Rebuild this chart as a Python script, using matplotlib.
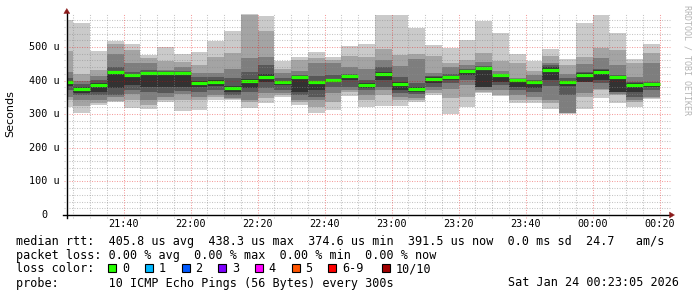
import matplotlib
matplotlib.use("Agg")
import matplotlib.pyplot as plt
from matplotlib.patches import Polygon, Rectangle

# ---------------- data ----------------
slot_start = ["21:20", "21:25", "21:30", "21:35", "21:40", "21:45", "21:50", "21:55",
              "22:00", "22:05", "22:10", "22:15", "22:20", "22:25", "22:30", "22:35",
              "22:40", "22:45", "22:50", "22:55", "23:00", "23:05", "23:10", "23:15",
              "23:20", "23:25", "23:30", "23:35", "23:40", "23:45", "23:50", "23:55",
              "00:00", "00:05", "00:10", "00:15"]
slot_minutes = 5
window_start = "21:23:05"
window_end = "00:23:05"

# sorted ping rtts (microseconds), ping_1 lowest ... ping_10 highest
ping_1 = [322, 305, 327, 335, 319, 315, 337, 310, 313, 342, 342, 317, 334, 352, 327, 305, 312, 354,
          322, 324, 324, 337, 357, 300, 322, 362, 354, 334, 332, 314, 301, 314, 347, 334, 320, 344]
ping_2 = [342, 324, 332, 340, 342, 327, 342, 342, 342, 352, 344, 335, 347, 357, 337, 322, 337, 367,
          342, 357, 342, 342, 364, 347, 352, 367, 357, 342, 342, 332, 304, 352, 372, 357, 337, 347]
ping_3 = [352, 342, 342, 352, 359, 342, 352, 359, 352, 357, 347, 342, 362, 362, 342, 342, 362, 372,
          357, 372, 352, 347, 372, 374, 387, 372, 372, 357, 352, 342, 305, 364, 374, 360, 342, 352]
ping_4 = [372, 357, 357, 357, 372, 367, 364, 370, 367, 372, 357, 365, 379, 372, 357, 352, 382, 382,
          372, 382, 364, 360, 382, 392, 402, 380, 387, 372, 367, 384, 357, 396, 392, 365, 352, 372]
ping_5 = [384, 362, 365, 377, 387, 382, 380, 382, 380, 385, 367, 377, 397, 387, 367, 372, 397, 402,
          377, 402, 372, 367, 394, 402, 417, 382, 397, 382, 377, 402, 384, 397, 402, 367, 367, 382]
ping_6 = [400, 380, 392, 427, 421, 424, 425, 425, 400, 402, 385, 405, 420, 400, 412, 400, 405, 416,
          392, 426, 397, 382, 410, 415, 433, 441, 418, 404, 399, 439, 399, 422, 431, 415, 393, 394]
ping_7 = [407, 390, 402, 441, 427, 431, 428, 428, 410, 410, 407, 426, 446, 407, 417, 414, 416, 419,
          402, 441, 410, 392, 414, 419, 436, 443, 420, 405, 402, 446, 407, 427, 436, 418, 397, 397]
ping_8 = [427, 400, 414, 479, 451, 451, 431, 441, 422, 422, 434, 466, 471, 424, 429, 451, 451, 441,
          434, 461, 443, 463, 424, 441, 446, 456, 429, 409, 417, 453, 420, 448, 466, 446, 410, 453]
ping_9 = [488, 420, 431, 508, 491, 466, 458, 454, 445, 471, 483, 595, 548, 436, 461, 466, 461, 473,
          471, 493, 476, 479, 473, 451, 461, 483, 459, 453, 430, 473, 446, 471, 498, 491, 451, 483]
ping_10 = [580, 572, 488, 518, 509, 476, 500, 479, 486, 518, 548, 597, 592, 458, 471, 486, 469, 503,
           510, 595, 595, 557, 505, 498, 521, 578, 541, 478, 459, 493, 464, 572, 595, 541, 463, 509]
median = [397, 374, 387, 425, 418, 422, 423, 423, 394, 397, 378, 400, 411, 396, 410, 396, 402, 413,
          386, 421, 390, 376, 406, 411, 430, 438, 416, 402, 395, 432, 396, 418, 427, 412, 387, 391]

y_ticks = [0, 100, 200, 300, 400, 500]
y_tick_labels = ["0", "100 u", "200 u", "300 u", "400 u", "500 u"]
x_ticks = ["21:40", "22:00", "22:20", "22:40", "23:00", "23:20", "23:40", "00:00", "00:20"]

loss_labels = ["0", "1", "2", "3", "4", "5", "6-9", "10/10"]
loss_colors = ["#26ff00", "#00b8ff", "#0059ff", "#7e00ff", "#ff00ff", "#ff5500", "#ff0000", "#a10000"]

legend_lines = [
    "median rtt:  405.8 us avg  438.3 us max  374.6 us min  391.5 us now  0.0 ms sd  24.7   am/s",
    "packet loss: 0.00 % avg  0.00 % max  0.00 % min  0.00 % now",
    "loss color:",
    "probe:       10 ICMP Echo Pings (56 Bytes) every 300s",
]
stamp = "Sat Jan 24 00:23:05 2026"


def to_min(s):
    parts = [int(p) for p in s.split(":")]
    h, m = parts[0], parts[1]
    sec = parts[2] if len(parts) > 2 else 0
    if h < 21:
        h += 24
    return (h - 21) * 60 + m + sec / 60.0


W, H = 697, 297
fig = plt.figure(figsize=(W / 100, H / 100), dpi=100)
fig.patch.set_facecolor("white")

ax_l, ax_r, ax_b, ax_t = 67, 670, 215, 13.4
ax = fig.add_axes([ax_l / W, (H - ax_b) / H, (ax_r - ax_l) / W, (ax_b - ax_t) / H])
ax.set_axis_off()
x0, x1 = to_min(window_start), to_min(window_end)
ymax = 600
ax.set_xlim(x0, x1)
ax.set_ylim(0, ymax)

px_x = (x1 - x0) / (ax_r - ax_l)
px_y = ymax / (ax_b - ax_t)

starts = [to_min(s) for s in slot_start]
pings = [ping_1, ping_2, ping_3, ping_4, ping_5, ping_6, ping_7, ping_8, ping_9, ping_10]
shades = ["#cacaca", "#a4a4a4", "#7e7e7e", "#585858", "#323232"]

for i in range(5):
    lo = pings[i]
    hi = pings[9 - i]
    ax.bar(starts, [h - l for h, l in zip(hi, lo)], bottom=lo, width=slot_minutes,
           align="edge", color=shades[i], linewidth=0, zorder=1 + i)

ax.hlines(median, starts, [s + slot_minutes for s in starts], colors="#26ff00",
          linewidth=2.3, capstyle="butt", zorder=10)

# grid
minor_col = (0.55, 0.55, 0.55, 0.5)
major_col = (0.9, 0.0, 0.0, 0.38)
dot = (0, (1.0, 1.4))
for v in range(20, 600, 20):
    col = major_col if v % 100 == 0 else minor_col
    ax.plot([x0 - 3 * px_x, x1], [v, v], color=col, lw=0.75, ls=dot, clip_on=False, zorder=20)
major_x = [to_min(t) for t in x_ticks]
for s in starts[1:] + [to_min("00:20")]:
    col = major_col if any(abs(s - m) < 1e-6 for m in major_x) else minor_col
    ax.plot([s, s], [-3 * px_y, ymax], color=col, lw=0.75, ls=dot, clip_on=False, zorder=20)

# axes lines
ax.plot([x0 - 4 * px_x, x1], [0, 0], color="black", lw=1.0, clip_on=False, zorder=30)
ax.plot([x0, x0], [-3 * px_y, ymax + 1.5 * px_y], color="black", lw=1.0, clip_on=False, zorder=30)


def fp(x, y):
    return (x / W, 1 - y / H)


arrow_col = "#8b1a1a"
fig.patches.append(Polygon([fp(66.8, 8.5), fp(63.8, 13.5), fp(69.8, 13.5)], closed=True,
                           transform=fig.transFigure, facecolor=arrow_col, edgecolor=arrow_col,
                           lw=0.3))
fig.patches.append(Polygon([fp(674.5, 215), fp(669.5, 212), fp(669.5, 218)], closed=True,
                           transform=fig.transFigure, facecolor=arrow_col, edgecolor=arrow_col,
                           lw=0.3))

mono = "DejaVu Sans Mono"
tick_fs = 7.3
for v, lab in zip(y_ticks, y_tick_labels):
    ax.text(x0 - 22.3 * px_x, v, lab, ha="center", va="center", family=mono,
            fontsize=tick_fs, color="black", clip_on=False)
for t in x_ticks:
    ax.text(to_min(t), -9 * px_y, t, ha="center", va="center", family=mono,
            fontsize=tick_fs, color="black", clip_on=False)

fig.text(*fp(10.5, 113.5), "Seconds", rotation=90, ha="center", va="center",
         family="DejaVu Sans", fontsize=8)

fig.text(*fp(687.5, 60), "RRDTOOL / TOBI OETIKER", rotation=270, ha="center", va="center",
         family=mono, fontsize=6.0, color="#b4b4b4")

leg_fs = 8.5
leg_y = [241, 255, 268.5, 283]
for txt, yy in zip(legend_lines, leg_y):
    fig.text(*fp(16, yy), txt, ha="left", va="center", family=mono, fontsize=leg_fs,
             color="black")
fig.text(*fp(679.5, 283), stamp, ha="right", va="center", family=mono, fontsize=leg_fs,
         color="black")

box_x = [108.3, 145, 181.7, 218.3, 255, 291.7, 328.3, 381.7]
for bx, lab, col in zip(box_x, loss_labels, loss_colors):
    fig.patches.append(Rectangle(fp(bx, 271.5), 8 / W, 8 / H, transform=fig.transFigure,
                                 facecolor=col, edgecolor="black", lw=0.8))
    fig.text(*fp(bx + 13.5, 268.5), lab, ha="left", va="center", family=mono,
             fontsize=leg_fs, color="black")

fig.savefig("out.png", dpi=100, facecolor="white")
